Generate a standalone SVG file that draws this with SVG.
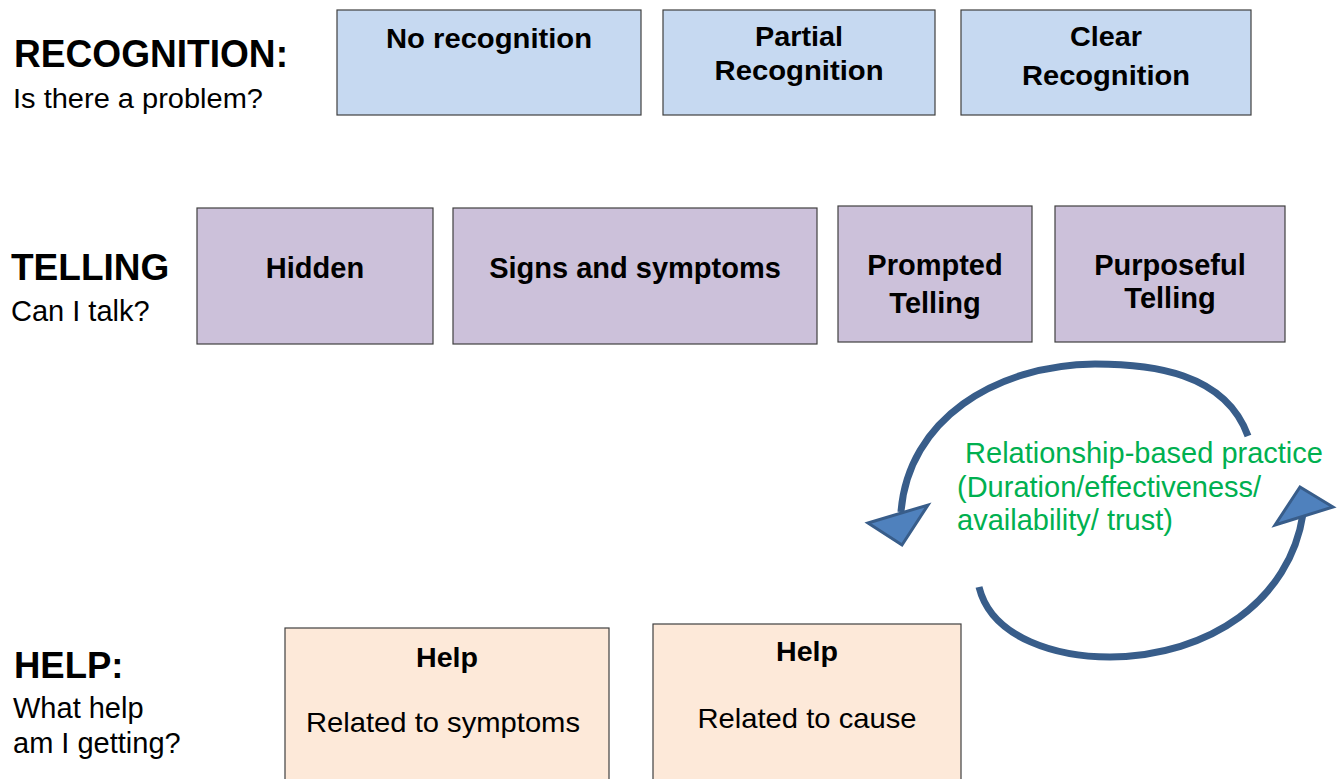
<svg xmlns="http://www.w3.org/2000/svg" width="1341" height="779" viewBox="0 0 1341 779">
<style>
text{font-family:"Liberation Sans",Arial,sans-serif;fill:#000}
.b{font-weight:bold}
.rec rect{fill:#C6D9F1;stroke:#404040;stroke-width:1.2}
.tel rect{fill:#CCC1DA;stroke:#404040;stroke-width:1.2}
.hlp rect{fill:#FDE9D9;stroke:#404040;stroke-width:1.2}
.arc{fill:none;stroke:#385D8A;stroke-width:7;stroke-linecap:butt}
.head{fill:#4F81BD;stroke:#385D8A;stroke-width:3;stroke-linejoin:miter}
.g{fill:#00B050;font-size:29px}
</style>
<rect width="1341" height="779" fill="#fff"/>
<g id="labels">
<text class="b" x="14" y="67" font-size="38" textLength="274" lengthAdjust="spacingAndGlyphs">RECOGNITION:</text>
<text x="13" y="108" font-size="27" textLength="250" lengthAdjust="spacingAndGlyphs">Is there a problem?</text>
<text class="b" x="11" y="280" font-size="37">TELLING</text>
<text x="11" y="321" font-size="29">Can I talk?</text>
<text class="b" x="14" y="678" font-size="36.5">HELP:</text>
<text x="13" y="718" font-size="29">What help</text>
<text x="13" y="753" font-size="29">am I getting?</text>
</g>
<g id="no-recognition" class="rec"><rect x="337" y="10" width="304" height="105"/><text class="b" x="489" y="48" font-size="28" text-anchor="middle" textLength="206" lengthAdjust="spacingAndGlyphs">No recognition</text></g>
<g id="partial-recognition" class="rec"><rect x="663" y="10" width="272" height="105"/><text class="b" x="799" y="46" font-size="28" text-anchor="middle" textLength="88" lengthAdjust="spacingAndGlyphs">Partial</text><text class="b" x="799" y="80" font-size="28" text-anchor="middle" textLength="169" lengthAdjust="spacingAndGlyphs">Recognition</text></g>
<g id="clear-recognition" class="rec"><rect x="961" y="10" width="290" height="105"/><text class="b" x="1106" y="46" font-size="28" text-anchor="middle" textLength="72" lengthAdjust="spacingAndGlyphs">Clear</text><text class="b" x="1106" y="85" font-size="28" text-anchor="middle" textLength="168" lengthAdjust="spacingAndGlyphs">Recognition</text></g>
<g id="hidden" class="tel"><rect x="197" y="208" width="236" height="136"/><text class="b" x="315" y="278" font-size="29" text-anchor="middle">Hidden</text></g>
<g id="signs" class="tel"><rect x="453" y="208" width="364" height="136"/><text class="b" x="635" y="278" font-size="29" text-anchor="middle">Signs and symptoms</text></g>
<g id="prompted" class="tel"><rect x="838" y="206" width="194" height="136"/><text class="b" x="935" y="275" font-size="29" text-anchor="middle">Prompted</text><text class="b" x="935" y="313" font-size="29" text-anchor="middle">Telling</text></g>
<g id="purposeful" class="tel"><rect x="1055" y="206" width="230" height="136"/><text class="b" x="1170" y="275" font-size="29" text-anchor="middle">Purposeful</text><text class="b" x="1170" y="308" font-size="29" text-anchor="middle">Telling</text></g>
<g id="help-symptoms" class="hlp"><rect x="285" y="628" width="324" height="160"/><text class="b" x="447" y="667" font-size="27" text-anchor="middle" textLength="62" lengthAdjust="spacingAndGlyphs">Help</text><text x="443" y="732" font-size="28" text-anchor="middle" textLength="274" lengthAdjust="spacingAndGlyphs">Related to symptoms</text></g>
<g id="help-cause" class="hlp"><rect x="653" y="624" width="308" height="165"/><text class="b" x="807" y="661" font-size="27" text-anchor="middle" textLength="62" lengthAdjust="spacingAndGlyphs">Help</text><text x="807" y="728" font-size="28" text-anchor="middle" textLength="219" lengthAdjust="spacingAndGlyphs">Related to cause</text></g>
<g id="connectors">
<path class="arc" d="M1248,436 C1225,372 1150,364 1095,364 C995,365 908,420 901,512"/>
<polygon class="head" points="868,523 928,505 902,545"/>
<path class="arc" d="M979,587 C992,640 1060,657 1110,657 C1210,656 1290,600 1303,514"/>
<polygon class="head" points="1275,525 1300,487 1333,507"/>
</g>
<g id="relationship-label">
<text class="g" x="957" y="463" xml:space="preserve"> Relationship-based practice</text>
<text class="g" x="957" y="497">(Duration/effectiveness/</text>
<text class="g" x="957" y="530">availability/ trust)</text>
</g>
</svg>
